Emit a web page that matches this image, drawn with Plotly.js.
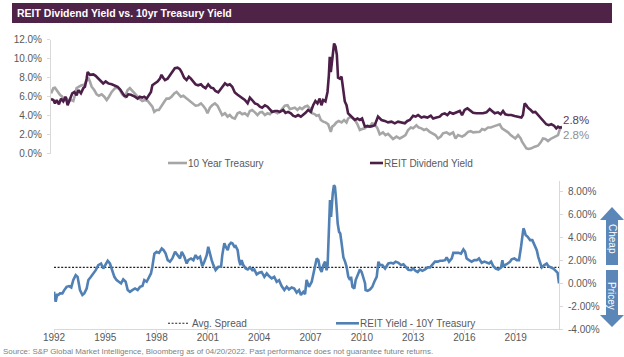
<!DOCTYPE html>
<html>
<head>
<meta charset="utf-8">
<script src="https://cdn.plot.ly/plotly-3.0.1.min.js"></script>
<style>
  html, body { margin: 0; padding: 0; background: #ffffff; }
  #chart { width: 624px; height: 357px; }
</style>
</head>
<body>
<div id="chart"></div>
<script>
// ---------------- DATA ----------------
const chartTitle = "REIT Dividend Yield vs. 10yr Treasury Yield";
const sourceText = "Source: S&P Global Market Intelligence, Bloomberg as of 04/20/2022. Past performance does not guarantee future returns.";

const reitName = "REIT Dividend Yield";
const tsyName = "10 Year Treasury";
const spreadName = "REIT Yield - 10Y Treasury";
const avgName = "Avg. Spread";

const reitYears = [1992.00,1992.14,1992.23,1992.33,1992.46,1992.58,1992.71,1992.85,1992.96,1993.10,
1993.23,1993.35,1993.48,1993.58,1993.73,1993.87,1993.96,1994.06,1994.12,1994.25,
1994.45,1994.58,1994.74,1994.93,1995.02,1995.16,1995.31,1995.51,1995.70,1995.85,
1995.99,1996.12,1996.24,1996.37,1996.47,1996.62,1996.76,1996.85,1997.01,1997.14,
1997.28,1997.39,1997.53,1997.66,1997.78,1997.86,1998.01,1998.16,1998.30,1998.39,
1998.49,1998.59,1998.74,1998.88,1999.01,1999.16,1999.32,1999.45,1999.55,1999.70,
1999.84,1999.97,2000.09,2000.22,2000.36,2000.51,2000.67,2000.80,2000.94,2001.09,
2001.25,2001.38,2001.51,2001.67,
2001.83,2001.96,2002.06,2002.21,2002.34,2002.48,2002.63,2002.79,2002.92,2003.06,
2003.21,2003.37,2003.50,2003.63,2003.79,2003.94,2004.08,2004.21,2004.37,2004.52,
2004.66,2004.79,2004.95,2005.10,2005.23,2005.43,2005.56,2005.71,2005.87,2006.00,
2006.14,2006.29,2006.45,2006.58,2006.72,2006.87,2007.02,2007.16,2007.29,2007.41,
2007.54,2007.64,2007.74,2007.87,2007.99,2008.07,2008.12,2008.18,2008.26,2008.32,
2008.37,2008.45,2008.53,2008.60,2008.70,2008.80,2008.89,2008.99,2009.09,2009.18,
2009.28,2009.37,2009.47,2009.57,2009.72,2009.86,2009.99,2010.15,2010.30,2010.43,
2010.57,2010.72,2010.91,2011.11,2011.30,2011.49,
2011.69,2011.88,2012.07,2012.26,2012.46,2012.61,2012.75,2012.94,2013.09,2013.23,
2013.42,2013.57,2013.77,2013.96,2014.10,2014.29,2014.48,2014.61,2014.77,2014.92,
2015.06,2015.25,2015.44,2015.64,2015.77,2015.92,2016.08,2016.21,2016.41,2016.60,
2016.79,2016.98,2017.18,2017.37,2017.50,2017.66,2017.85,2018.00,2018.14,2018.27,
2018.43,2018.62,2018.81,2019.01,2019.20,2019.29,2019.39,2019.49,2019.58,2019.74,
2019.87,2020.01,2020.16,2020.35,2020.51,2020.64,2020.78,2020.93,2021.09,2021.22,
2021.32,2021.41,2021.55];
const reitYield = [5.75,5.65,5.3,5.65,5.2,5.8,5.5,6.0,5.1,5.75,
6.35,6.5,6.15,6.7,6.35,6.9,7.05,7.9,8.6,8.3,
8.35,8.2,7.9,7.65,7.4,7.6,7.4,7.3,7.2,7.05,
6.77,6.45,6.1,6.0,6.25,6.2,6.1,6.0,5.8,6.0,
5.9,6.0,5.8,6.1,6.5,7.2,7.4,7.6,7.9,8.3,
8.0,7.75,7.9,8.3,8.6,9.0,9.05,8.9,8.6,8.0,
7.75,8.1,7.9,7.6,7.3,7.2,7.3,7.05,6.9,7.3,
6.95,6.9,6.6,6.45,
6.9,7.2,7.4,7.2,7.3,7.05,6.45,6.2,6.0,5.8,
5.65,5.3,5.9,5.65,5.3,5.2,4.95,4.85,5.1,4.95,
4.6,4.4,4.5,4.5,4.4,4.6,4.3,4.4,4.25,4.0,
3.9,4.07,3.9,4.07,4.3,4.6,4.4,5.1,5.55,5.3,
5.8,5.1,5.65,5.5,6.5,8.3,10.2,8.6,10.0,10.4,
11.6,11.3,10.4,8.0,7.9,8.1,6.9,5.5,5.1,4.25,
4.07,3.9,3.7,3.55,3.7,3.55,3.7,2.85,2.9,2.85,
2.9,3.0,3.9,3.55,3.45,3.3,
3.37,3.2,3.37,3.3,3.2,3.45,3.55,4.0,3.9,4.07,
3.8,3.9,3.8,4.0,3.7,3.8,3.9,4.15,4.25,4.07,
4.35,4.2,4.35,4.5,4.07,4.6,4.77,4.6,4.3,4.25,
4.25,4.25,4.35,4.7,4.5,4.25,4.35,4.15,4.5,4.15,
4.07,4.07,3.97,3.9,3.8,4.07,5.3,5.1,4.85,4.6,
4.35,4.4,4.07,3.7,3.3,3.1,3.0,3.1,2.95,2.67,
2.84,2.74,2.8];

const tsyYears = [1992.00,1992.14,1992.23,1992.39,1992.52,1992.65,1992.77,1992.90,1993.04,1993.16,
1993.29,1993.39,1993.48,1993.62,1993.77,1993.93,1994.06,1994.16,1994.25,1994.35,
1994.50,1994.64,1994.77,1994.93,1995.08,1995.22,1995.35,1995.51,1995.70,1995.85,
1995.99,1996.12,1996.28,1996.43,1996.56,1996.70,1996.85,1997.01,1997.14,1997.28,
1997.43,1997.59,1997.72,1997.86,1997.97,1998.11,1998.24,1998.39,1998.55,1998.68,
1998.82,1998.97,1999.13,1999.26,1999.36,1999.51,1999.65,1999.78,1999.94,2000.09,
2000.22,2000.36,2000.51,2000.67,2000.80,2000.94,2001.05,2001.19,2001.32,2001.48,
2001.63,
2001.77,2001.90,2002.06,2002.21,2002.34,2002.48,2002.63,2002.79,2002.92,2003.06,
2003.21,2003.37,2003.50,2003.63,2003.79,2003.94,2004.08,2004.21,2004.37,2004.52,
2004.66,2004.79,2004.95,2005.10,2005.23,2005.37,2005.52,2005.68,2005.81,2005.95,
2006.10,2006.25,2006.39,2006.52,2006.68,2006.83,2006.97,2007.10,2007.26,2007.35,
2007.49,2007.60,2007.74,2007.87,2008.03,2008.18,2008.26,2008.37,2008.51,2008.64,
2008.80,2008.95,2009.09,2009.18,2009.34,2009.47,2009.61,2009.72,2009.86,2009.99,
2010.15,2010.30,2010.43,2010.57,2010.72,2010.88,2011.01,2011.20,2011.34,2011.49,
2011.78,2011.98,2012.17,2012.36,2012.50,2012.65,2012.81,2012.94,2013.13,2013.27,
2013.42,2013.57,2013.71,2013.90,2014.10,2014.23,2014.38,2014.54,2014.67,2014.87,
2015.06,2015.25,2015.39,2015.54,2015.77,2015.92,2016.12,2016.27,2016.41,2016.60,
2016.79,2016.93,2017.08,2017.27,2017.43,2017.56,2017.75,2017.95,2018.08,2018.24,
2018.43,2018.58,2018.72,2018.85,2019.01,2019.16,2019.24,2019.35,2019.49,2019.62,
2019.78,2019.97,2020.16,2020.32,2020.45,2020.59,2020.74,2020.89,2021.03,2021.16,
2021.32,2021.41,2021.51];
const tsyYield = [6.35,6.9,6.95,6.5,6.2,6.0,5.65,5.8,5.5,5.65,
5.55,6.2,6.9,7.05,7.2,7.25,7.6,8.0,7.6,7.05,
6.7,6.25,6.1,6.25,6.0,5.65,6.0,6.5,6.9,6.95,
6.7,6.25,6.0,6.7,6.9,6.6,6.35,6.0,5.75,5.55,
5.65,5.55,5.3,4.95,4.4,4.6,4.6,5.1,5.47,5.8,
5.8,6.0,6.35,6.5,6.25,6.0,6.1,5.9,5.65,5.47,
5.3,5.05,5.1,5.3,5.05,4.7,4.25,4.85,5.1,5.3,
5.05,
4.6,4.07,4.25,3.9,4.07,3.8,3.7,4.25,4.35,4.15,
4.25,4.0,4.5,4.6,4.35,4.07,4.35,4.4,4.07,4.25,
4.15,4.5,4.4,4.25,4.4,4.7,5.05,5.1,4.7,4.77,
4.85,4.6,4.85,4.7,4.95,5.05,4.77,4.25,4.15,4.0,
4.07,3.55,3.37,3.3,3.1,2.3,2.85,3.0,3.3,3.45,
3.3,3.55,3.3,3.7,3.9,3.7,3.45,3.1,2.5,2.6,
2.67,2.95,2.85,3.2,3.1,2.67,2.03,2.25,1.96,2.1,
1.55,1.8,1.6,1.8,1.96,2.5,2.75,2.67,3.0,2.75,
2.67,2.5,2.6,2.3,2.14,1.96,1.6,1.8,2.14,2.25,
2.03,2.25,1.6,1.96,1.8,1.96,2.3,2.37,2.25,2.3,
2.3,2.6,2.5,2.75,2.75,2.85,2.95,3.1,2.67,2.5,
2.25,1.96,1.8,1.6,1.96,1.6,1.26,0.9,0.56,0.5,
0.56,0.74,0.84,1.2,1.6,1.55,1.33,1.55,1.68,1.8,
1.96,2.5,2.8];

const spreadYears = [1992.00,1992.10,1992.18,1992.25,1992.35,1992.49,1992.60,1992.74,1992.88,1993.01,
1993.13,1993.27,1993.38,1993.52,1993.66,1993.77,1993.91,1994.01,1994.16,1994.30,
1994.44,1994.59,1994.75,1994.88,1995.02,1995.14,1995.27,1995.37,1995.53,1995.66,
1995.80,1995.92,1996.05,1996.19,1996.31,1996.44,1996.58,1996.74,1996.89,1997.03,
1997.17,1997.28,1997.42,1997.55,1997.67,1997.75,1997.87,1998.00,1998.14,1998.30,
1998.41,1998.53,1998.65,1998.78,1998.92,1999.08,1999.23,1999.37,1999.47,1999.62,
1999.76,1999.85,2000.01,2000.15,2000.28,2000.40,2000.54,2000.67,2000.79,2000.93,
2001.02,2001.12,2001.22,2001.32,2001.45,2001.61,
2001.77,2001.84,2001.96,2002.04,2002.16,2002.23,2002.35,2002.43,2002.55,2002.62,
2002.74,2002.82,2002.90,2002.97,2003.07,2003.21,2003.33,2003.46,2003.60,2003.71,
2003.85,2003.99,2004.14,2004.30,2004.44,2004.57,2004.73,2004.88,2005.02,2005.16,
2005.31,2005.47,2005.61,2005.74,2005.90,2006.05,2006.19,2006.33,2006.44,2006.58,
2006.68,2006.77,2006.91,2007.07,2007.22,2007.36,2007.46,2007.55,2007.65,2007.75,
2007.85,2007.94,2008.00,2008.08,2008.14,2008.20,2008.24,2008.30,2008.37,2008.43,
2008.49,2008.59,2008.67,2008.74,2008.82,2008.92,2009.02,2009.11,2009.21,2009.31,
2009.37,2009.45,2009.56,2009.64,2009.76,2009.89,2009.99,2010.09,2010.19,2010.22,
2010.34,2010.48,2010.61,2010.73,2010.87,2010.97,2011.06,2011.20,2011.36,
2011.55,2011.71,2011.84,2011.98,2012.14,2012.29,2012.43,2012.57,2012.72,2012.88,
2013.01,2013.15,2013.27,2013.40,2013.54,2013.70,2013.85,2013.99,2014.12,2014.28,
2014.44,2014.57,2014.71,2014.87,2014.96,2015.10,2015.26,2015.35,2015.49,2015.65,
2015.80,2015.94,2016.04,2016.13,2016.27,2016.42,2016.58,2016.72,2016.85,2017.01,
2017.17,2017.30,2017.44,2017.56,2017.69,2017.83,2017.98,2018.14,2018.22,2018.28,
2018.37,2018.53,2018.67,2018.76,2018.92,2019.06,2019.19,2019.31,2019.39,2019.45,
2019.50,2019.58,2019.70,2019.84,2019.97,2020.09,2020.23,2020.32,2020.42,2020.52,
2020.67,2020.81,2020.91,2021.06,2021.20,2021.34,2021.45,2021.53];
const spreadValues = [-0.73,-1.6,-1.0,-1.0,-0.87,-0.87,-0.58,-0.3,-0.23,-0.35,
0.3,0.73,0.58,-0.58,-1.0,-0.87,-0.44,0.3,0.58,0.87,
1.16,1.6,1.74,1.3,1.74,1.98,1.74,1.3,0.58,0.29,
0.15,0.0,0.35,0.15,-0.58,-0.73,-0.58,-0.44,-0.58,-0.3,
-0.23,0.29,0.15,0.58,0.87,1.45,2.6,2.76,2.67,3.05,
2.9,2.6,2.03,1.9,2.18,2.76,2.47,2.18,2.76,2.33,
1.74,2.03,2.18,2.03,2.47,2.18,2.33,1.5,1.9,2.47,
3.2,2.47,2.03,1.6,1.16,1.45,
1.45,2.47,3.5,3.2,2.9,3.34,3.55,3.5,3.2,3.26,
2.9,2.03,1.6,2.03,1.6,1.3,1.22,1.4,1.16,1.22,
0.8,0.93,1.0,0.58,0.87,0.64,0.44,0.58,0.15,0.29,
-0.23,-0.58,-0.29,-0.52,-0.35,-0.44,-0.8,-0.58,-1.0,-0.73,
-0.93,0.3,-0.3,0.15,1.3,2.18,2.03,1.3,1.0,1.6,
1.9,1.16,1.6,5.5,7.27,5.8,6.98,7.85,8.58,8.43,
7.4,5.2,4.5,4.36,3.5,2.3,1.9,1.45,0.58,0.3,
0.58,-0.3,-0.44,0.3,0.73,1.22,1.0,0.58,0.0,-0.58,
-0.64,-0.52,-0.3,0.15,0.58,1.9,1.6,1.6,1.3,
1.74,1.8,1.74,1.9,1.8,1.6,1.68,1.4,1.2,1.16,
1.3,1.1,1.0,1.22,1.1,1.22,1.4,1.4,1.6,1.9,
1.9,1.98,1.98,2.03,2.27,1.9,2.18,2.67,2.67,2.67,
2.6,2.97,2.76,2.18,2.03,1.9,2.03,2.03,2.18,1.8,
1.9,1.8,1.74,1.9,1.5,1.3,1.22,1.4,2.03,1.45,
1.6,1.74,1.9,2.1,2.18,2.03,2.03,3.2,3.92,4.8,
4.65,4.22,4.07,3.78,3.78,3.34,2.9,2.3,1.74,1.4,
1.6,1.74,1.5,1.4,1.3,1.1,0.93,0.0];

const avgSpread = 1.4;

const topTickVals = [0, 2, 4, 6, 8, 10, 12];
const bottomTickVals = [-4, -2, 0, 2, 4, 6, 8];
const xTickYears = [1992, 1995, 1998, 2001, 2004, 2007, 2010, 2013, 2016, 2019];

// ---------------- STYLE / LAYOUT ----------------
const W = 624, H = 357;
const px = x => x / W;
const py = y => 1 - y / H;
const FONT = "Liberation Sans, Arial, Helvetica, sans-serif";
const C_REIT = "#4C1F48", C_TSY = "#A6A6A6", C_SPREAD = "#5080B4";
const C_ARROW = "#5B87B8", C_TITLE = "#4F2348", C_TEXT = "#595959", C_AXIS = "#D9D9D9";

const last = a => a[a.length - 1];

const traces = [
  { x: tsyYears, y: tsyYield, name: tsyName, type: "scatter", mode: "lines",
    xaxis: "x", yaxis: "y", line: { color: C_TSY, width: 2.6 }, hoverinfo: "skip" },
  { x: reitYears, y: reitYield, name: reitName, type: "scatter", mode: "lines",
    xaxis: "x", yaxis: "y", line: { color: C_REIT, width: 2.6 }, hoverinfo: "skip" },
  { x: [spreadYears[0], last(spreadYears)], y: [avgSpread, avgSpread], name: avgName,
    type: "scatter", mode: "lines", xaxis: "x2", yaxis: "y2",
    line: { color: "#222222", width: 1.1, dash: "2px,1.6px" }, hoverinfo: "skip" },
  { x: spreadYears, y: spreadValues, name: spreadName, type: "scatter", mode: "lines",
    xaxis: "x2", yaxis: "y2", line: { color: C_SPREAD, width: 2.6 }, hoverinfo: "skip" }
];

const arrowUp = `M${px(612)},${py(207)} L${px(624)},${py(220)} L${px(618)},${py(220)} L${px(618)},${py(265)} L${px(606)},${py(265)} L${px(606)},${py(220)} L${px(600)},${py(220)} Z`;
const arrowDown = `M${px(606)},${py(270)} L${px(618)},${py(270)} L${px(618)},${py(315)} L${px(624)},${py(315)} L${px(612)},${py(327)} L${px(600)},${py(315)} L${px(606)},${py(315)} Z`;

const shapes = [
  { type: "rect", xref: "paper", yref: "paper", x0: px(12), x1: px(612), y0: py(23), y1: py(3),
    fillcolor: C_TITLE, line: { width: 0 }, layer: "below" },
  // legend keys
  { type: "line", xref: "paper", yref: "paper", x0: px(168), x1: px(187), y0: py(163), y1: py(163),
    line: { color: C_TSY, width: 2.6 } },
  { type: "line", xref: "paper", yref: "paper", x0: px(370), x1: px(383), y0: py(163), y1: py(163),
    line: { color: C_REIT, width: 2.6 } },
  { type: "line", xref: "paper", yref: "paper", x0: px(168), x1: px(189), y0: py(323.3), y1: py(323.3),
    line: { color: "#222222", width: 1.1, dash: "2px,1.6px" } },
  { type: "line", xref: "paper", yref: "paper", x0: px(336), x1: px(359), y0: py(323.3), y1: py(323.3),
    line: { color: C_SPREAD, width: 2.6 } },
  // cheap / pricey arrows
  { type: "path", xref: "paper", yref: "paper", path: arrowUp, fillcolor: C_ARROW, line: { width: 0 } },
  { type: "path", xref: "paper", yref: "paper", path: arrowDown, fillcolor: C_ARROW, line: { width: 0 } }
];

const ann = (text, x, y, opts) => Object.assign({
  text, x: px(x), y: py(y), xref: "paper", yref: "paper", showarrow: false,
  xanchor: "left", yanchor: "middle", borderpad: 0,
  font: { family: FONT, size: 10, color: C_TEXT }
}, opts || {});

const annotations = [
  ann(tsyName, 187, 163.3),
  ann(reitName, 382.5, 163.3),
  ann(avgName, 190.5, 323.3),
  ann(spreadName, 359.5, 323.3),
  ann(last(reitYield).toFixed(1) + "%", 561.5, 120, { font: { family: FONT, size: 11.5, color: "#5E3A59" } }),
  ann(last(tsyYield).toFixed(1) + "%", 561.5, 134.5, { font: { family: FONT, size: 11.5, color: "#8F8F8F" } }),
  ann("Cheap", 612, 239, { xanchor: "center", textangle: 90, font: { family: FONT, size: 10, color: "#ffffff" } }),
  ann("Pricey", 612, 296, { xanchor: "center", textangle: 90, font: { family: FONT, size: 10, color: "#ffffff" } }),
  ann(sourceText, 1.5, 351.5, { font: { family: FONT, size: 7.9, color: "#7F7F7F" } })
];

const layout = {
  width: W, height: H,
  margin: { l: 0, r: 0, t: 0, b: 0, pad: 0, autoexpand: false },
  paper_bgcolor: "#ffffff", plot_bgcolor: "rgba(0,0,0,0)",
  showlegend: false,
  font: { family: FONT, size: 10, color: C_TEXT },
  title: { text: chartTitle, x: px(17), xref: "paper", xanchor: "left",
           y: py(13.5), yref: "paper", yanchor: "middle",
           font: { family: FONT, size: 10.5, color: "#ffffff", weight: "bold" } },
  xaxis: { domain: [px(51), px(562)], range: [reitYears[0], last(reitYears)], anchor: "y",
           visible: false, fixedrange: true },
  yaxis: { domain: [py(153.7), py(39.7)], range: [0, 12], anchor: "x",
           tickmode: "array", tickvals: topTickVals,
           ticktext: topTickVals.map(v => v.toFixed(1) + "%"),
           ticks: "outside", ticklen: 3, tickcolor: C_AXIS, tickwidth: 1,
           showline: true, linecolor: C_AXIS, linewidth: 1,
           showgrid: false, zeroline: false, ticklabelstandoff: 3,
           tickfont: { family: FONT, size: 10, color: C_TEXT }, fixedrange: true },
  xaxis2: { domain: [px(54), px(559)], range: [spreadYears[0], last(spreadYears)], anchor: "y2",
            tickmode: "array", tickvals: xTickYears, ticktext: xTickYears.map(String),
            ticks: "outside", ticklen: 3, tickcolor: C_AXIS, tickwidth: 1,
            showline: true, linecolor: C_AXIS, linewidth: 1,
            showgrid: false, zeroline: false, ticklabelstandoff: -4,
            tickfont: { family: FONT, size: 10, color: C_TEXT }, fixedrange: true },
  yaxis2: { domain: [py(329.3), py(180.5)], range: [-4, 8.98], anchor: "x2", side: "right",
            tickmode: "array", tickvals: bottomTickVals,
            ticktext: bottomTickVals.map(v => v.toFixed(2) + "%"),
            ticks: "outside", ticklen: 3, tickcolor: C_AXIS, tickwidth: 1,
            showline: true, linecolor: C_AXIS, linewidth: 1,
            showgrid: false, zeroline: false, ticklabelstandoff: 3,
            tickfont: { family: FONT, size: 10, color: C_TEXT }, fixedrange: true },
  shapes, annotations
};

Plotly.newPlot("chart", traces, layout, { staticPlot: true, displayModeBar: false, responsive: false });
</script>
</body>
</html>
